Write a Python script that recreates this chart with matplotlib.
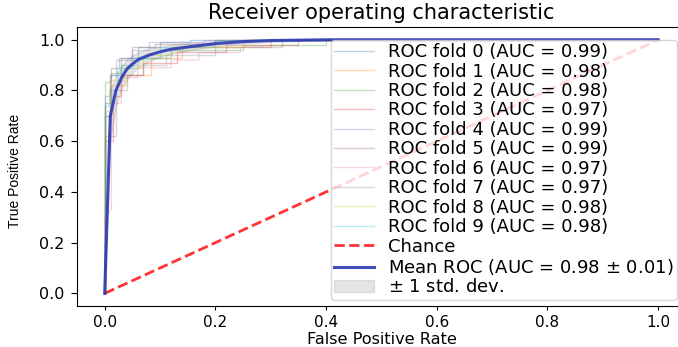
import numpy as np
import matplotlib
matplotlib.use("Agg")
import matplotlib.pyplot as plt

# per-fold ROC curves (corner points of the step curves)
fpr_0 = [0, 0, 0.01, 0.01, 0.03, 0.03, 0.06, 0.06, 0.10, 0.10, 0.155, 0.155, 1]
tpr_0 = [0, 0.75, 0.75, 0.86, 0.86, 0.93, 0.93, 0.97, 0.97, 0.99, 0.99, 1, 1]
fpr_1 = [0, 0, 0.012, 0.012, 0.04, 0.04, 0.083, 0.083, 0.14, 0.14, 0.30, 0.30, 1]
tpr_1 = [0, 0.72, 0.72, 0.82, 0.82, 0.86, 0.86, 0.93, 0.93, 0.97, 0.97, 1, 1]
fpr_2 = [0, 0, 0.011, 0.011, 0.03, 0.03, 0.06, 0.06, 0.12, 0.12, 0.25, 0.25, 0.40, 0.40, 1]
tpr_2 = [0, 0.835, 0.835, 0.87, 0.87, 0.90, 0.90, 0.93, 0.93, 0.96, 0.96, 0.98, 0.98, 1, 1]
fpr_3 = [0, 0, 0.015, 0.015, 0.03, 0.03, 0.07, 0.07, 0.13, 0.13, 0.22, 0.22, 0.35, 0.35, 1]
tpr_3 = [0, 0.60, 0.60, 0.78, 0.78, 0.86, 0.86, 0.91, 0.91, 0.95, 0.95, 0.98, 0.98, 1, 1]
fpr_4 = [0, 0, 0.01, 0.01, 0.02, 0.02, 0.05, 0.05, 0.08, 0.08, 0.18, 0.18, 1]
tpr_4 = [0, 0.78, 0.78, 0.86, 0.86, 0.92, 0.92, 0.96, 0.96, 0.99, 0.99, 1, 1]
fpr_5 = [0, 0, 0.011, 0.011, 0.025, 0.025, 0.05, 0.05, 0.09, 0.09, 0.20, 0.20, 1]
tpr_5 = [0, 0.70, 0.70, 0.89, 0.89, 0.93, 0.93, 0.97, 0.97, 0.985, 0.985, 1, 1]
fpr_6 = [0, 0, 0.012, 0.012, 0.03, 0.03, 0.06, 0.06, 0.12, 0.12, 0.17, 0.17, 0.245, 0.245, 0.30, 0.30, 1]
tpr_6 = [0, 0.30, 0.33, 0.75, 0.75, 0.85, 0.85, 0.89, 0.89, 0.92, 0.92, 0.95, 0.95, 0.97, 0.97, 1, 1]
fpr_7 = [0, 0, 0.02, 0.02, 0.04, 0.04, 0.07, 0.07, 0.11, 0.11, 0.20, 0.20, 0.32, 0.32, 1]
tpr_7 = [0, 0.62, 0.62, 0.80, 0.80, 0.86, 0.86, 0.90, 0.90, 0.94, 0.94, 0.97, 0.97, 1, 1]
fpr_8 = [0, 0, 0.01, 0.01, 0.035, 0.035, 0.07, 0.07, 0.12, 0.12, 0.25, 0.25, 1]
tpr_8 = [0, 0.70, 0.70, 0.84, 0.84, 0.89, 0.89, 0.94, 0.94, 0.97, 0.97, 1, 1]
fpr_9 = [0, 0, 0.008, 0.008, 0.023, 0.023, 0.05, 0.05, 0.10, 0.10, 0.20, 0.20, 1]
tpr_9 = [0, 0.74, 0.74, 0.80, 0.80, 0.89, 0.89, 0.93, 0.93, 0.97, 0.97, 1, 1]

fold_auc = [0.99, 0.98, 0.98, 0.97, 0.99, 0.99, 0.97, 0.97, 0.98, 0.98]

# mean curve with its spread
mean_fpr = [0, 0.0101, 0.0202, 0.0303, 0.0404, 0.0505, 0.0606, 0.0808, 0.101,
            0.121, 0.152, 0.202, 0.253, 0.303, 0.404, 0.505, 1.0]
mean_tpr = [0, 0.70, 0.80, 0.85, 0.885, 0.905, 0.922, 0.94, 0.953,
            0.963, 0.972, 0.985, 0.993, 0.997, 1.0, 1.0, 1.0]
std_tpr = [0, 0.10, 0.06, 0.045, 0.04, 0.035, 0.03, 0.025, 0.02,
           0.017, 0.014, 0.01, 0.007, 0.005, 0, 0, 0]
mean_auc = 0.98
std_auc = 0.01

fprs = [fpr_0, fpr_1, fpr_2, fpr_3, fpr_4, fpr_5, fpr_6, fpr_7, fpr_8, fpr_9]
tprs = [tpr_0, tpr_1, tpr_2, tpr_3, tpr_4, tpr_5, tpr_6, tpr_7, tpr_8, tpr_9]

fig = plt.figure(figsize=(6.78, 3.47), dpi=100)
ax = fig.add_axes([0.1136, 0.118, 0.898, 0.804])

for i, (fpr, tpr) in enumerate(zip(fprs, tprs)):
    ax.plot(fpr, tpr, lw=1, alpha=0.3,
            label='ROC fold %d (AUC = %0.2f)' % (i, fold_auc[i]))

ax.plot([0, 1], [0, 1], linestyle='--', lw=2, color='r', label='Chance', alpha=.8)

ax.plot(mean_fpr, mean_tpr, color='#2c3ab4',
        label=r'Mean ROC (AUC = %0.2f $\pm$ %0.2f)' % (mean_auc, std_auc),
        lw=2.2, alpha=.9)

mean_tpr = np.array(mean_tpr)
std_tpr = np.array(std_tpr)
tprs_upper = np.minimum(mean_tpr + std_tpr, 1)
tprs_lower = np.maximum(mean_tpr - std_tpr, 0)
ax.fill_between(mean_fpr, tprs_lower, tprs_upper, color='grey', alpha=.2,
                label=r'$\pm$ 1 std. dev.')

ax.set_xlim([-0.05, 1.05])
ax.set_ylim([-0.05, 1.05])
ax.tick_params(axis='x', labelsize=11, length=3, pad=3.5)
ax.tick_params(axis='y', labelsize=11.5, length=4.5, pad=4.5)
ax.set_xlabel('False Positive Rate', fontsize=11.6)
ax.xaxis.set_label_coords(0.5, -0.0914)
ax.set_ylabel('True Positive Rate', fontsize=10, family='Liberation Sans')
ax.yaxis.set_label_coords(-0.09, 0.484)
ax.set_title('Receiver operating characteristic', fontsize=15)
ax.legend(loc="lower right", bbox_to_anchor=(0.985, 0.0215), borderaxespad=0,
          fontsize=13, labelspacing=0.08, borderpad=0.2, handlelength=2.2,
          handletextpad=0.75)

plt.savefig('out.png', dpi=100)
